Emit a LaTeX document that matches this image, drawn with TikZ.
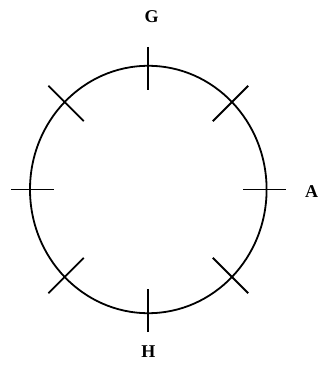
\documentclass[tikz,border=0pt]{standalone}
\usepackage{fontspec}
\setmainfont{Liberation Serif}
\usetikzlibrary{calc}
\begin{document}
\begin{tikzpicture}[x=1pt,y=-1pt,
  ring/.style={line width=1.8pt, black},
  tickline/.style={line width=1.8pt, black},
  lbl/.style={font=\fontsize{18}{21}\selectfont\bfseries, inner sep=0pt}]
\useasboundingbox (0,0) rectangle (320,374);
\coordinate (O) at (148.3,189.5);
\draw[ring] (O) ellipse [x radius=118.3, y radius=123.7];
\foreach \a in {0,90,180,270}{
  \coordinate (P\a) at ($(O)+(\a:118.3 and 123.7)$);
  \draw[tickline] ($(P\a)+(\a:19)$) -- ($(P\a)+(\a+180:24)$);
}
\foreach \a in {45,135,225,315}{
  \coordinate (P\a) at ($(O)+(\a:118.3 and 123.7)$);
  \draw[tickline] ($(P\a)+(\a:23)$) -- ($(P\a)+(\a+180:27)$);
}
\node[lbl] (G) at (151.5,16.7) {G};
\node[lbl] (A) at (311.5,191.7) {A};
\node[lbl] (H) at (148.3,351.7) {H};
\end{tikzpicture}
\end{document}
